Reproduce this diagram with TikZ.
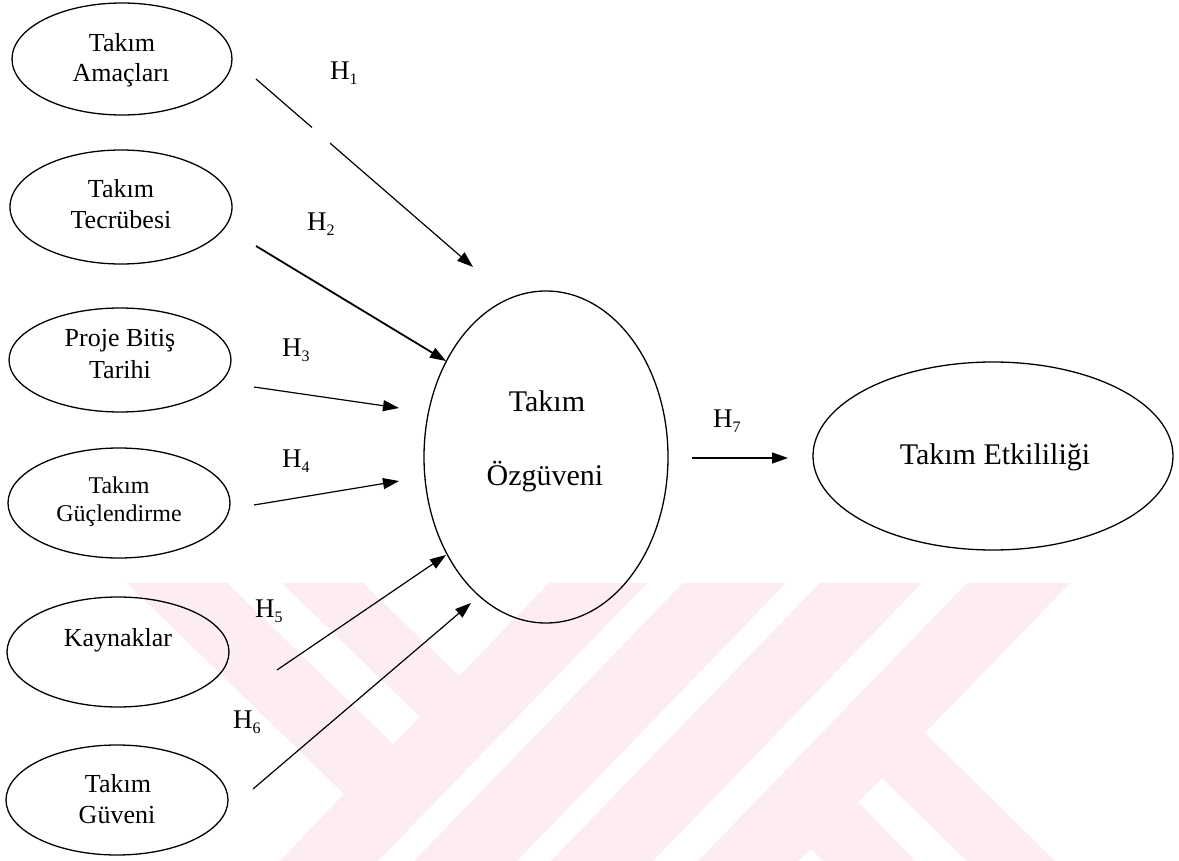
\documentclass[tikz,border=0pt]{standalone}
\usepackage{fontspec}
\setmainfont{Liberation Serif}
\usetikzlibrary{shapes.geometric,arrows.meta}
\definecolor{wmpink}{RGB}{253,237,241}
% hypothesis label: H with a lowered index
\newcommand{\hyp}[1]{H{\fontsize{16}{16}\selectfont\raisebox{-5pt}{#1}}}

\begin{document}
\begin{tikzpicture}[x=1pt,y=-1pt,
  oval/.style={draw,ellipse,line width=1.3pt,inner sep=0pt},
  txt/.style={anchor=base,inner sep=0pt,font=\fontsize{26}{30}\selectfont},
  smalltxt/.style={txt,font=\fontsize{24}{28}\selectfont},
  bigtxt/.style={txt,font=\fontsize{30}{34}\selectfont},
  hlab/.style={anchor=base west,inner sep=0pt,font=\fontsize{27}{30}\selectfont},
  link/.style={line width=1.2pt,-{Triangle[length=16pt,width=11pt]}}]

\useasboundingbox (0,0) rectangle (1179,861);
\fill[white] (0,0) rectangle (1179,861);

% background emblem in light pink
\fill[wmpink] (127,583) -- (227,583) -- (393,744) -- (420,717) -- (282,583)
  -- (363,583) -- (459,676) -- (549,583) -- (647,583) -- (378,861)
  -- (280,861) -- (344,794) -- cycle;
\fill[wmpink] (683,583) -- (786,583) -- (517,861) -- (414,861) -- cycle;
\fill[wmpink] (820,583) -- (922,583) -- (653,861) -- (551,861) -- cycle;
\fill[wmpink] (967,583) -- (1070,583) -- (925,733) -- (1055,861) -- (967,861)
  -- (882,778) -- (858,802) -- (915,861) -- (823,861) -- (811,849)
  -- (798,861) -- (698,861) -- cycle;

% antecedent constructs
\node[oval,minimum width=220pt,minimum height=112pt] (e1) at (122,59) {};
\node[oval,minimum width=222pt,minimum height=114pt] (e2) at (121,207) {};
\node[oval,minimum width=222pt,minimum height=104pt] (e3) at (120,360) {};
\node[oval,minimum width=222pt,minimum height=110pt] (e4) at (119,503) {};
\node[oval,minimum width=222pt,minimum height=110pt] (e5) at (118,652) {};
\node[oval,minimum width=222pt,minimum height=110pt] (e6) at (117,800) {};

\node[txt] (e1a) at (122,52) {Takım};
\node[txt] (e1b) at (121,82) {Amaçları};
\node[txt] (e2a) at (121,198) {Takım};
\node[txt] (e2b) at (121,229) {Tecrübesi};
\node[txt] (e3a) at (120,347) {Proje Bitiş};
\node[txt] (e3b) at (120,378) {Tarihi};
\node[smalltxt] (e4a) at (119,493) {Takım};
\node[smalltxt] (e4b) at (119,521) {Güçlendirme};
\node[txt] (e5a) at (118,646) {Kaynaklar};
\node[txt] (e6a) at (118,792) {Takım};
\node[txt] (e6b) at (117,823) {Güveni};

% mediator and outcome
\node[oval,minimum width=244pt,minimum height=332pt] (ce) at (546,457) {};
\node[bigtxt] (cea) at (547,411) {Takım};
\node[bigtxt] (ceb) at (545,485) {Özgüveni};

\node[oval,minimum width=360pt,minimum height=188pt] (re) at (993,456) {};
\node[bigtxt] (rea) at (995,464) {Takım Etkililiği};

% hypothesised paths
\coordinate (h1s) at (256,79);  \coordinate (h1e) at (473,267);
\coordinate (h2s) at (256,246); \coordinate (h2e) at (446,361);
\coordinate (h3s) at (254,387); \coordinate (h3e) at (399,408);
\coordinate (h4s) at (254,505); \coordinate (h4e) at (399,481);
\coordinate (h5s) at (277,670); \coordinate (h5e) at (446,555);
\coordinate (h6s) at (253,789); \coordinate (h6e) at (471,603);
\coordinate (h7s) at (692,458); \coordinate (h7e) at (788,458);

\draw[link,dash pattern=on 74pt off 24pt on 400pt] (h1s) -- (h1e);
\draw[link,line width=1.8pt] (h2s) -- (h2e);
\draw[link] (h3s) -- (h3e);
\draw[link] (h4s) -- (h4e);
\draw[link] (h5s) -- (h5e);
\draw[link] (h6s) -- (h6e);
\draw[link] (h7s) -- (h7e);

\node[hlab] (l1) at (330,80)  {\hyp{1}};
\node[hlab] (l2) at (307,231) {\hyp{2}};
\node[hlab] (l3) at (282,356) {\hyp{3}};
\node[hlab] (l4) at (282,467) {\hyp{4}};
\node[hlab] (l5) at (255,617) {\hyp{5}};
\node[hlab] (l6) at (233,728) {\hyp{6}};
\node[hlab] (l7) at (713,427) {\hyp{7}};
\end{tikzpicture}
\end{document}
